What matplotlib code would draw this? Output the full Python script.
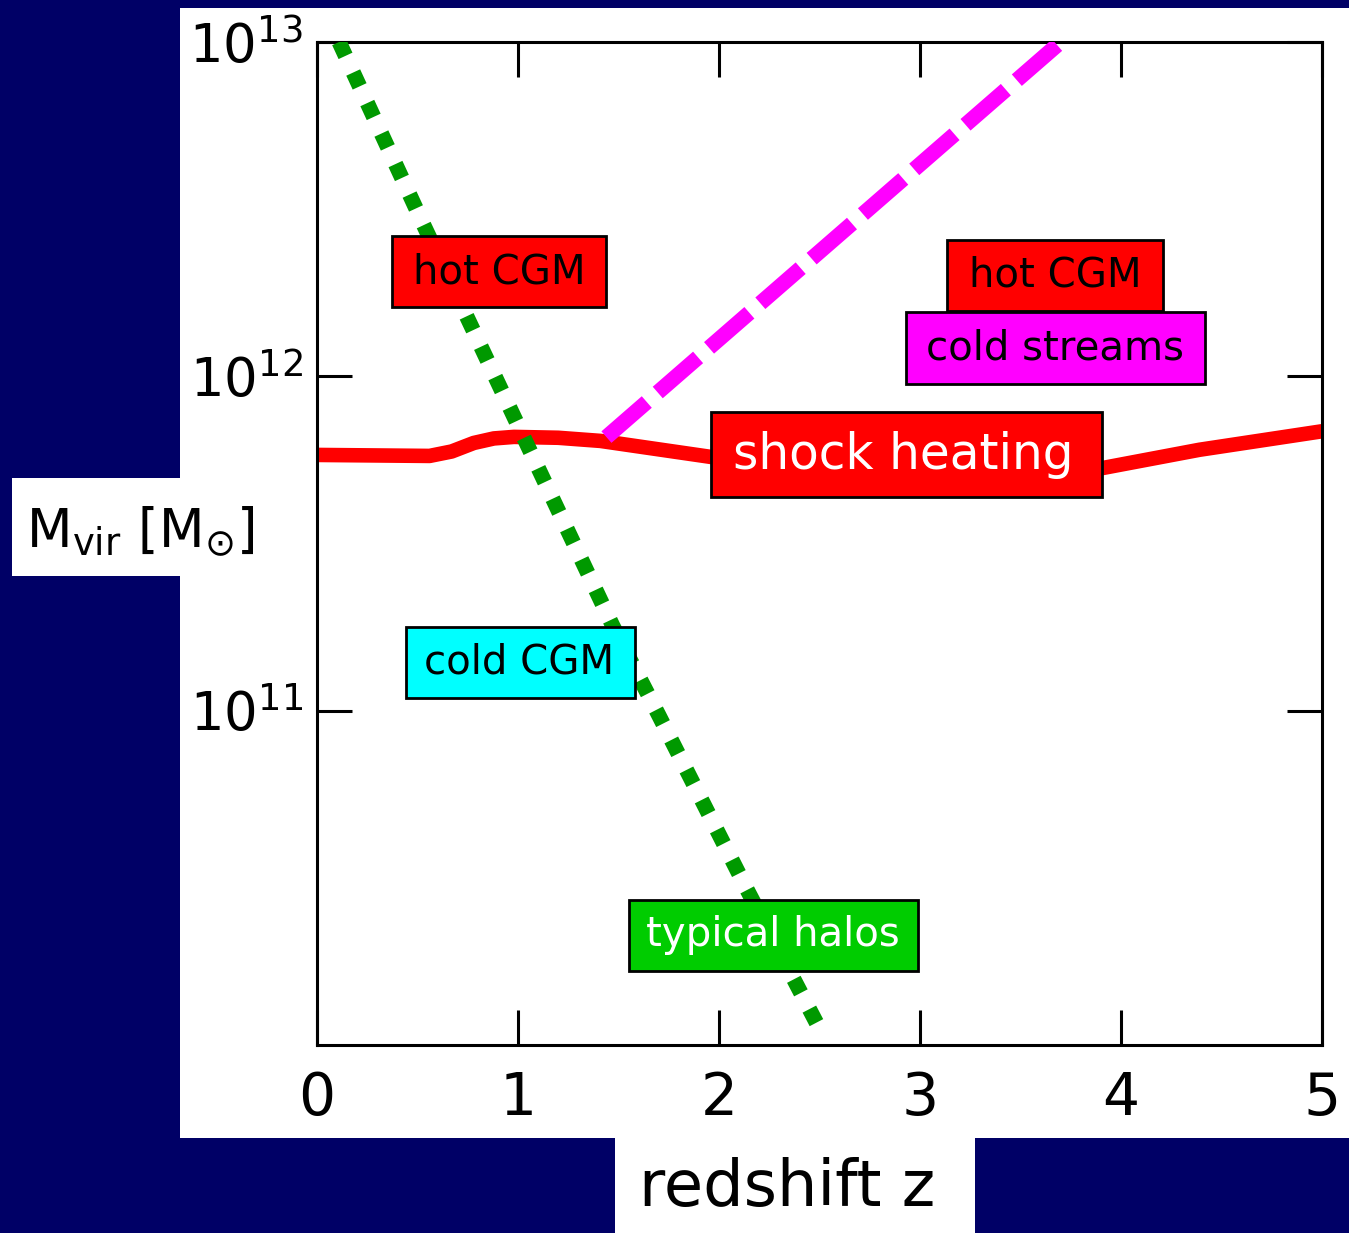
import numpy as np
import matplotlib
matplotlib.use("Agg")
import matplotlib.pyplot as plt
from matplotlib.patches import Rectangle

plt.rcParams['font.family'] = ['DejaVu Sans']
plt.rcParams['mathtext.fontset'] = 'dejavusans'

# shock-heating threshold mass vs redshift
z_shock = [0.0, 0.56, 0.67, 0.78, 0.88, 0.98, 1.2, 1.41, 1.96, 2.5, 3.2, 3.91, 4.39, 5.0]
m_shock = [5.82e11, 5.78e11, 5.96e11, 6.32e11, 6.52e11, 6.59e11, 6.55e11, 6.41e11,
           5.74e11, 5.50e11, 5.25e11, 5.32e11, 6.03e11, 6.85e11]

# typical halo mass
z_halo = [0.11, 0.53, 1.0, 1.47, 1.70, 2.13, 2.50, 2.53]
m_halo = [1.0e13, 2.84e12, 7.14e11, 1.80e11, 9.70e10, 2.99e10, 1.12e10, 1.05e10]

# upper limit for cold streams
z_stream = [1.44, 3.70]
m_stream = [6.58e11, 1.0e13]

xticks = [0, 1, 2, 3, 4, 5]
yticks = [1e11, 1e12, 1e13]
yticklabels = ['$10^{11}$', '$10^{12}$', '$10^{13}$']

W, H = 1349, 1233
navy = '#000066'

fig = plt.figure(figsize=(W / 100, H / 100), dpi=100, facecolor=navy)

def box(x0, y0, x1, y1, fc, zorder=5, lw=2):
    # rectangle given in pixels from the top-left corner
    r = Rectangle((x0 / W, 1 - y1 / H), (x1 - x0) / W, (y1 - y0) / H,
                  transform=fig.transFigure, facecolor=fc,
                  edgecolor='black' if lw else 'none', lw=lw, zorder=zorder)
    fig.add_artist(r)
    return r

def label(x, y, s, color='black', size=29, zorder=6):
    fig.text(x / W, 1 - y / H, s, color=color, fontsize=size,
             ha='center', va='center', zorder=zorder)

# white backing panels
box(180, 8, W, 1138, 'white', zorder=-2, lw=0)
box(12, 478, 180, 576, 'white', zorder=-2, lw=0)
box(615, 1138, 975, H, 'white', zorder=-2, lw=0)

ax = fig.add_axes([317 / W, 1 - 1045 / H, (1322 - 317) / W, (1045 - 42) / H])
ax.set_facecolor('white')

ax.plot(z_shock, m_shock, color='#ff0000', lw=10.5, solid_capstyle='butt',
        solid_joinstyle='round', zorder=2)
ax.plot(z_halo, m_halo, color='#009900', lw=11, linestyle=(0, (1.0, 1.2)),
        dash_capstyle='butt', zorder=3)
ax.plot(z_stream, m_stream, color='#ff00ff', lw=11, linestyle=(0, (3.5, 0.95)),
        dash_capstyle='butt', zorder=4)

ax.set_yscale('log')
ax.set_xlim(0, 5)
ax.set_ylim(1e10, 1e13)
ax.set_xticks(xticks)
ax.set_xticklabels([str(t) for t in xticks])
ax.set_yticks(yticks)
ax.set_yticklabels(yticklabels)
ax.minorticks_off()
ax.tick_params(axis='both', direction='in', length=25, width=2.2,
               top=True, right=True, color='black')
ax.tick_params(axis='x', labelsize=42, pad=18)
ax.tick_params(axis='y', labelsize=38, pad=10)
for sp in ax.spines.values():
    sp.set_linewidth(2.2)

# region labels
box(392, 236, 606, 307, '#ff0000')
label(499, 272, 'hot CGM')
box(947, 240, 1163, 311, '#ff0000')
label(1055, 276, 'hot CGM')
box(906, 312, 1205, 384, '#ff00ff')
label(1055, 349, 'cold streams')
box(711, 412, 1102, 497, '#ff0000')
label(903, 455, 'shock heating', color='white', size=35)
box(406, 627, 635, 698, '#00ffff')
label(519, 662, 'cold CGM')
box(629, 900, 918, 971, '#00cc00')
label(773, 935, 'typical halos', color='white')

# axis titles
label(140, 532, r'$\mathregular{M_{vir}}$ [$\mathregular{M_{\odot}}$]', size=38)
label(787, 1188, 'redshift z', size=46)

fig.savefig('out.png', dpi=100, facecolor=navy)
